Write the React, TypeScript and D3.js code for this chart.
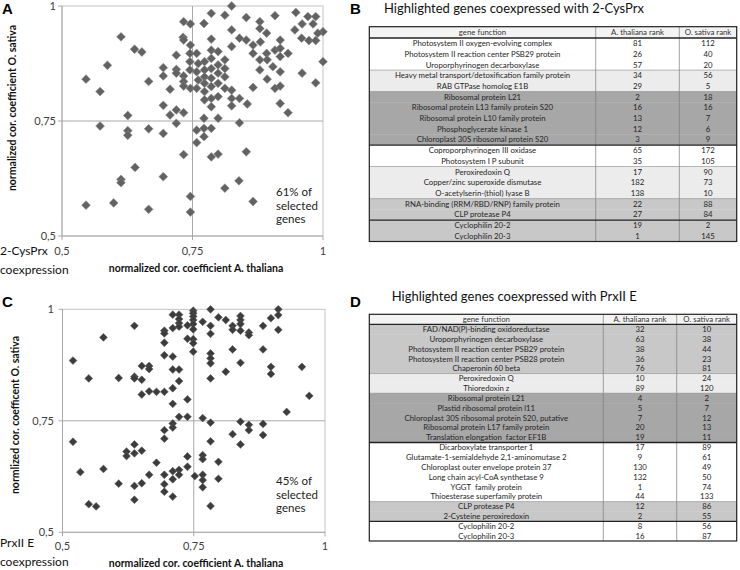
import React from "react";
import * as d3 from "d3";

// ---------- DATA ----------
const axisTicks = [0.5, 0.75, 1];
const axisTickLabels = ["0,5", "0,75", "1"];

// Panel A: 2-CysPrx coexpression (x = A. thaliana, y = O. sativa)
const cysPrxAth = [
  0.733, 0.746, 0.613, 0.732, 0.733, 0.746, 0.639, 0.653, 0.719, 0.745, 0.587, 0.745, 0.694, 0.719, 0.745, 0.546,
  0.666, 0.694, 0.719, 0.733, 0.733, 0.733, 0.746, 0.707, 0.573, 0.694, 0.719, 0.707, 0.733, 0.626, 0.719, 0.573,
  0.626, 0.626, 0.666, 0.694, 0.733, 0.64, 0.613, 0.613, 0.694, 0.546, 0.599, 0.666, 0.746, 0.746,
  0.825, 0.786, 0.812, 0.772, 0.853, 0.908, 0.948, 0.971, 0.986, 0.879, 0.879, 0.825, 0.96, 0.981, 0.946, 0.892,
  1.0, 0.99, 0.84, 0.853, 0.88, 0.959, 0.973, 0.986, 0.918, 0.786, 0.866, 0.825,
  0.758, 0.786, 0.799, 0.812, 0.773, 0.786, 0.761, 0.799, 0.786, 0.773, 0.812, 0.758, 0.799, 0.773, 0.786, 0.761,
  0.812, 0.773, 0.799, 0.786, 0.758, 0.773, 0.812, 0.799, 0.786, 0.773, 0.786, 0.825, 0.825, 0.84, 0.825, 0.855,
  0.866, 0.892, 0.879, 0.893, 0.908, 0.918, 0.933, 0.918, 1.0, 0.904, 0.879, 0.918, 0.96, 0.986, 0.893, 0.866,
  0.908, 0.918, 0.918, 0.933,
  0.772, 0.799, 0.84, 0.758, 0.772, 0.786, 0.772, 0.758, 0.786, 0.799, 0.853, 0.839, 0.812, 0.866,
];
const cysPrxOsa = [
  0.966, 0.961, 0.933, 0.932, 0.926, 0.915, 0.906, 0.9, 0.893, 0.897, 0.871, 0.879, 0.866, 0.862, 0.861, 0.841,
  0.836, 0.848, 0.854, 0.848, 0.836, 0.826, 0.821, 0.819, 0.814, 0.784, 0.774, 0.763, 0.768, 0.762, 0.745, 0.739,
  0.729, 0.719, 0.733, 0.723, 0.677, 0.649, 0.623, 0.616, 0.629, 0.567, 0.572, 0.558, 0.586, 0.552,
  1.0, 0.984, 0.98, 0.962, 0.975, 0.979, 0.986, 0.977, 0.977, 0.966, 0.951, 0.948, 0.961, 0.961, 0.948, 0.941,
  0.944, 0.941, 0.93, 0.926, 0.922, 0.93, 0.925, 0.925, 0.926, 0.928, 0.915, 0.912,
  0.897, 0.904, 0.901, 0.883, 0.879, 0.886, 0.875, 0.872, 0.864, 0.861, 0.864, 0.857, 0.854, 0.846, 0.843, 0.839,
  0.846, 0.832, 0.832, 0.825, 0.821, 0.814, 0.821, 0.803, 0.799, 0.796, 0.781, 0.817, 0.799, 0.799, 0.783, 0.787,
  0.897, 0.897, 0.883, 0.883, 0.904, 0.908, 0.897, 0.89, 0.879, 0.868, 0.861, 0.857, 0.854, 0.833, 0.841, 0.823,
  0.821, 0.826, 0.788, 0.768,
  0.756, 0.756, 0.746, 0.73, 0.734, 0.734, 0.716, 0.703, 0.672, 0.678, 0.683, 0.62, 0.604, 0.575,
];

// Panel C: PrxII E coexpression
const prxIIEAth = [
  0.71, 0.722, 0.722, 0.722, 0.722, 0.71, 0.738, 0.637, 0.694, 0.694, 0.578, 0.738, 0.694, 0.52, 0.694, 0.71,
  0.651, 0.665, 0.665, 0.71, 0.722, 0.55, 0.607, 0.637, 0.637, 0.651, 0.722, 0.71, 0.651, 0.665, 0.679, 0.694,
  0.738, 0.71, 0.722, 0.738, 0.71, 0.71, 0.694, 0.694, 0.52, 0.637, 0.622, 0.622, 0.637, 0.651, 0.738, 0.679,
  0.534, 0.578, 0.665, 0.694, 0.71, 0.722, 0.722, 0.71, 0.738, 0.607, 0.637, 0.651, 0.694, 0.694, 0.71, 0.637,
  0.55, 0.564,
  0.749, 0.749, 0.749, 0.749, 0.749, 0.749, 0.782, 0.797, 0.811, 0.767, 0.782, 0.782, 0.839, 0.839, 0.839, 0.839,
  0.824, 0.824, 0.855, 0.855, 0.882, 0.897, 0.911, 0.911, 0.911, 0.749, 0.749, 0.749, 0.782, 0.782, 0.782, 0.782,
  0.824, 0.839, 0.811, 0.882, 0.897, 0.897, 0.956, 0.97, 0.927, 0.767, 0.782, 0.839, 0.855, 0.855, 0.882, 0.824,
  0.839, 0.882, 0.782, 0.767, 0.767, 0.797, 0.752, 0.767, 0.767, 0.767, 0.797, 0.782,
];
const prxIIEOsa = [
  0.988, 0.988, 0.978, 0.969, 0.961, 0.958, 0.964, 0.963, 0.952, 0.946, 0.937, 0.934, 0.925, 0.885, 0.897, 0.894,
  0.873, 0.873, 0.866, 0.865, 0.865, 0.845, 0.846, 0.849, 0.845, 0.842, 0.839, 0.823, 0.809, 0.816, 0.815, 0.815,
  0.798, 0.788, 0.759, 0.759, 0.744, 0.735, 0.729, 0.71, 0.703, 0.697, 0.681, 0.671, 0.677, 0.683, 0.67, 0.656,
  0.635, 0.642, 0.629, 0.629, 0.637, 0.64, 0.629, 0.619, 0.647, 0.609, 0.604, 0.61, 0.608, 0.591, 0.58, 0.573,
  0.563, 0.558,
  0.997, 0.991, 0.984, 0.976, 0.967, 0.955, 1.0, 0.982, 0.976, 0.972, 0.963, 0.945, 0.985, 0.976, 0.967, 0.952,
  0.963, 0.954, 0.948, 0.942, 0.963, 0.98, 1.0, 0.987, 0.954, 0.933, 0.924, 0.905, 0.901, 0.89, 0.879, 0.845,
  0.91, 0.88, 0.86, 0.91, 0.871, 0.855, 0.871, 0.806, 0.77, 0.756, 0.746, 0.748, 0.741, 0.729, 0.743, 0.72,
  0.697, 0.718, 0.704, 0.673, 0.664, 0.658, 0.626, 0.629, 0.617, 0.601, 0.62, 0.559,
];

// Table B
const tableHeader = ["gene function", "A. thaliana rank", "O. sativa rank"];
const tableBFunction = [
  "Photosystem II oxygen-evolving complex",
  "Photosystem II reaction center PSB29 protein",
  "Uroporphyrinogen decarboxylase",
  "Heavy metal transport/detoxification family protein",
  "RAB GTPase homolog E1B",
  "Ribosomal protein L21",
  "Ribosomal protein L13 family protein S20",
  "Ribosomal protein L10 family protein",
  "Phosphoglycerate kinase 1",
  "Chloroplast 30S ribosomal protein S20",
  "Coproporphyrinogen III oxidase",
  "Photosystem I P subunit",
  "Peroxiredoxin Q",
  "Copper/zinc superoxide dismutase",
  "O-acetylserin-(thiol) lyase B",
  "RNA-binding (RRM/RBD/RNP) family protein",
  "CLP protease P4",
  "Cyclophilin 20-2",
  "Cyclophilin 20-3",
];
const tableBAth = [81, 26, 57, 34, 29, 2, 16, 13, 12, 3, 65, 35, 17, 182, 138, 22, 27, 19, 1];
const tableBOsa = [112, 40, 20, 56, 5, 18, 16, 7, 6, 9, 172, 105, 90, 73, 10, 88, 84, 2, 145];
const tableBShadeGroup = ["white", "white", "white", "light", "light", "dark", "dark", "dark", "dark", "dark",
  "white", "white", "light", "light", "light", "medium", "medium", "medium", "medium"];
const tableBBlock = [0, 0, 0, 0, 0, 0, 0, 0, 0, 0, 1, 1, 1, 1, 1, 1, 1, 2, 2];

// Table D
const tableDFunction = [
  "FAD/NAD(P)-binding oxidoreductase",
  "Uroporphyrinogen decarboxylase",
  "Photosystem II reaction center PSB29 protein",
  "Photosystem II reaction center PSB28 protein",
  "Chaperonin 60 beta",
  "Peroxiredoxin Q",
  "Thioredoxin z",
  "Ribosomal protein L21",
  "Plastid ribosomal protein l11",
  "Chloroplast 30S ribosomal protein S20, putative",
  "Ribosomal protein L17 family protein",
  "Translation elongation  factor EF1B",
  "Dicarboxylate transporter 1",
  "Glutamate-1-semialdehyde 2,1-aminomutase 2",
  "Chloroplast outer envelope protein 37",
  "Long chain acyl-CoA synthetase 9",
  "YGGT  family protein",
  "Thioesterase superfamily protein",
  "CLP protease P4",
  "2-Cysteine peroxiredoxin",
  "Cyclophilin 20-2",
  "Cyclophilin 20-3",
];
const tableDAth = [32, 63, 38, 36, 76, 10, 89, 4, 5, 7, 20, 19, 17, 9, 130, 132, 1, 44, 12, 2, 8, 16];
const tableDOsa = [10, 38, 44, 23, 81, 24, 120, 2, 7, 12, 13, 11, 89, 61, 49, 50, 74, 133, 86, 55, 56, 87];
const tableDShadeGroup = ["medium", "medium", "medium", "medium", "medium", "light", "light",
  "dark", "dark", "dark", "dark", "dark", "white", "white", "white", "white", "white", "white",
  "medium", "medium", "white", "white"];
const tableDBlock = [0, 0, 0, 0, 0, 0, 0, 0, 0, 0, 0, 0, 1, 1, 1, 1, 1, 1, 1, 1, 2, 2];

// ---------- STYLE ----------
const FONT = "Lato, 'Open Sans', 'DejaVu Sans', sans-serif";
const shadeColor: Record<string, string> = {
  white: "#ffffff",
  light: "#ececec",
  medium: "#c8c8c8",
  dark: "#a7a7a7",
};

type ScatterProps = {
  left: number; top: number; right: number; bottom: number;
  xs: number[]; ys: number[];
  fill: string; stroke: string; r: number;
  letter: string; letterX: number; letterY: number;
  yTitle: string; yTitleX: number; yTitleY: number;
  xTitle: string; xTitleX: number; xTitleY: number;
  tickLabelX: number; xTickLabelY: number;
  geneName: string; nameY1: number; nameY2: number;
  pctLines: string[]; pctX: number; pctY: number;
};

function Scatter(p: ScatterProps) {
  const x = d3.scaleLinear().domain([0.5, 1]).range([p.left, p.right]);
  const y = d3.scaleLinear().domain([0.5, 1]).range([p.bottom, p.top]);
  const grid = "#a9a9a9";
  const diamond = (cx: number, cy: number) => {
    const path = d3.path();
    path.moveTo(cx, cy - p.r);
    path.lineTo(cx + p.r, cy);
    path.lineTo(cx, cy + p.r);
    path.lineTo(cx - p.r, cy);
    path.closePath();
    return path.toString();
  };
  return (
    <g>
      <text x={p.letterX} y={p.letterY} fontFamily="'Liberation Sans', Arial, sans-serif" fontWeight="bold" fontSize={15}>
        {p.letter}
      </text>
      <rect x={p.left} y={p.top} width={p.right - p.left} height={p.bottom - p.top} fill="none" stroke="#c4c4c4" strokeWidth={1} />
      <line x1={x(0.75)} x2={x(0.75)} y1={p.top} y2={p.bottom} stroke={grid} strokeWidth={1} />
      <line x1={p.left} x2={p.right} y1={y(0.75)} y2={y(0.75)} stroke={grid} strokeWidth={1} />
      <line x1={p.left} x2={p.left} y1={p.top} y2={p.bottom} stroke={grid} strokeWidth={1} />
      <line x1={p.left} x2={p.right} y1={p.bottom} y2={p.bottom} stroke={grid} strokeWidth={1} />
      {axisTicks.map((t, i) => (
        <g key={"yt" + i}>
          <line x1={p.left - 4} x2={p.left} y1={y(t)} y2={y(t)} stroke={grid} />
          <text x={p.tickLabelX} y={y(t)} dy="0.35em" textAnchor="end" fontFamily={FONT} fontSize={11} fill="#404040">
            {axisTickLabels[i]}
          </text>
        </g>
      ))}
      {axisTicks.map((t, i) => (
        <g key={"xt" + i}>
          <line x1={x(t)} x2={x(t)} y1={p.bottom} y2={p.bottom + 4} stroke={grid} />
          <text x={x(t)} y={p.xTickLabelY} textAnchor="middle" fontFamily={FONT} fontSize={11} fill="#404040">
            {axisTickLabels[i]}
          </text>
        </g>
      ))}
      {p.xs.map((v, i) => (
        <path key={i} d={diamond(x(v), y(p.ys[i]))} fill={p.fill} stroke={p.stroke} strokeWidth={0.6} />
      ))}
      <text
        transform={`translate(${p.yTitleX},${p.yTitleY}) rotate(-90)`}
        textAnchor="middle" fontFamily={FONT} fontWeight="bold" fontSize={10.5} fill="#111"
      >
        {p.yTitle}
      </text>
      <text x={p.xTitleX} y={p.xTitleY} textAnchor="middle" fontFamily={FONT} fontWeight="bold" fontSize={10.5} fill="#111">
        {p.xTitle}
      </text>
      <text x={0} y={p.nameY1} fontFamily={FONT} fontSize={12} fill="#111">{p.geneName}</text>
      <text x={0} y={p.nameY2} fontFamily={FONT} fontSize={12} fill="#111">coexpression</text>
      {p.pctLines.map((l, i) => (
        <text key={l} x={p.pctX} y={p.pctY + i * 13.5} fontFamily={FONT} fontSize={11.5} fill="#222">{l}</text>
      ))}
    </g>
  );
}

type TableProps = {
  letter: string; letterY: number; title: string; titleX: number; titleY: number;
  cols: number[]; top: number; headerH: number; bottom: number;
  fn: string[]; ath: number[]; osa: number[]; shade: string[]; block: number[];
};

function Table(p: TableProps) {
  const n = p.fn.length;
  const rowY = d3.scaleLinear().domain([0, n]).range([p.top + p.headerH, p.bottom]);
  const rh = rowY(1) - rowY(0);
  const left = p.cols[0];
  const right = p.cols[3];
  const centers = [0, 1, 2].map((i) => (p.cols[i] + p.cols[i + 1]) / 2);
  const fs = 7.8;
  return (
    <g>
      <text x={350} y={p.letterY} fontFamily="'Liberation Sans', Arial, sans-serif" fontWeight="bold" fontSize={15}>
        {p.letter}
      </text>
      <text x={p.titleX} y={p.titleY} fontFamily={FONT} fontSize={13} fill="#111">{p.title}</text>
      <rect x={left} y={p.top} width={right - left} height={p.headerH} fill="#f3f3f3" />
      {p.fn.map((_, i) => (
        <rect key={"bg" + i} x={left} y={rowY(i)} width={right - left} height={rh + 0.3} fill={shadeColor[p.shade[i]]} />
      ))}
      {[1, 2].map((c) => (
        <line key={"c" + c} x1={p.cols[c]} x2={p.cols[c]} y1={p.top} y2={p.bottom} stroke="#7a7a7a" strokeWidth={0.7} />
      ))}
      <line x1={left} x2={right} y1={rowY(0)} y2={rowY(0)} stroke="#222" strokeWidth={1.3} />
      {p.fn.map((_, i) => {
        if (i === 0) return null;
        if (p.block[i] !== p.block[i - 1])
          return <line key={"s" + i} x1={left} x2={right} y1={rowY(i)} y2={rowY(i)} stroke="#222" strokeWidth={1.3} />;
        if (p.shade[i] !== p.shade[i - 1])
          return <line key={"s" + i} x1={left} x2={right} y1={rowY(i)} y2={rowY(i)} stroke="#8a8a8a" strokeWidth={0.6} />;
        return null;
      })}
      <rect x={left} y={p.top} width={right - left} height={p.bottom - p.top} fill="none" stroke="#222" strokeWidth={1.2} />
      {tableHeader.map((h, i) => (
        <text key={"h" + i} x={centers[i]} y={p.top + p.headerH / 2} dy="0.35em" textAnchor="middle" fontFamily={FONT} fontSize={fs} fill="#333">
          {h}
        </text>
      ))}
      {p.fn.map((f, i) => {
        const cy = rowY(i) + rh / 2;
        return (
          <g key={"r" + i}>
            <text x={centers[0]} y={cy} dy="0.35em" textAnchor="middle" fontFamily={FONT} fontSize={fs} fill="#262626" style={{ whiteSpace: "pre" }}>{f}</text>
            <text x={centers[1]} y={cy} dy="0.35em" textAnchor="middle" fontFamily={FONT} fontSize={fs} fill="#262626">{p.ath[i]}</text>
            <text x={centers[2]} y={cy} dy="0.35em" textAnchor="middle" fontFamily={FONT} fontSize={fs} fill="#262626">{p.osa[i]}</text>
          </g>
        );
      })}
    </g>
  );
}

export default function App() {
  return (
    <svg
      width={740}
      height={570}
      viewBox="0 0 740 570"
      style={{ position: "absolute", left: 0, top: 0, background: "#fff" }}
    >
      <rect x={0} y={0} width={740} height={570} fill="#fff" />
      <Scatter
        left={62} top={6} right={323} bottom={236}
        xs={cysPrxAth} ys={cysPrxOsa} fill="#626262" stroke="#8c8c8c" r={4.4}
        letter="A" letterX={2} letterY={14}
        yTitle="normalized cor. coefficient O. sativa" yTitleX={16} yTitleY={108}
        xTitle="normalized cor. coefficient A. thaliana" xTitleX={196} xTitleY={272}
        tickLabelX={56} xTickLabelY={255}
        geneName="2-CysPrx" nameY1={255} nameY2={274}
        pctLines={["61% of", "selected", "genes"]} pctX={276} pctY={196}
      />
      <Scatter
        left={62.5} top={309.3} right={325} bottom={532.3}
        xs={prxIIEAth} ys={prxIIEOsa} fill="#3c3c3c" stroke="#5a5a5a" r={3.9}
        letter="C" letterX={2} letterY={307}
        yTitle="normlized cor. coefficent O. sativa" yTitleX={19} yTitleY={415}
        xTitle="normalized cor. coefficient A. thaliana" xTitleX={196} xTitleY={567}
        tickLabelX={54} xTickLabelY={550}
        geneName="PrxII E" nameY1={547} nameY2={566}
        pctLines={["45% of", "selected", "genes"]} pctX={276} pctY={485}
      />
      <Table
        letter="B" letterY={14} title="Highlighted genes coexpressed with 2-CysPrx" titleX={384} titleY={13}
        cols={[369.3, 595.7, 679.3, 736.7]} top={26.7} headerH={11.3} bottom={241.5}
        fn={tableBFunction} ath={tableBAth} osa={tableBOsa} shade={tableBShadeGroup} block={tableBBlock}
      />
      <Table
        letter="D" letterY={307} title="Highlighted genes coexpressed with PrxII E" titleX={391.7} titleY={300.5}
        cols={[369.3, 603.3, 676.7, 736.7]} top={314.3} headerH={10} bottom={541}
        fn={tableDFunction} ath={tableDAth} osa={tableDOsa} shade={tableDShadeGroup} block={tableDBlock}
      />
    </svg>
  );
}
